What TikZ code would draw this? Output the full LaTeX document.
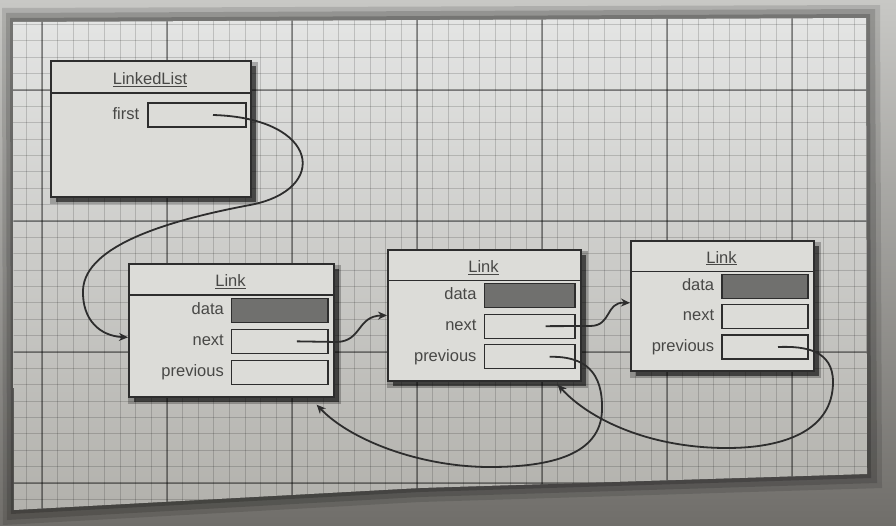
\documentclass[tikz,border=0pt]{standalone}
\usepackage{fontspec}
\setmainfont{Liberation Sans}
\usetikzlibrary{arrows.meta,shadows}

\definecolor{bgtop}{RGB}{200,200,197}
\definecolor{bgbot}{RGB}{112,110,106}
\definecolor{paperhi}{RGB}{228,229,228}
\definecolor{paperlo}{RGB}{178,177,172}
\definecolor{boxfill}{RGB}{220,220,216}
\definecolor{datafill}{RGB}{112,112,110}
\definecolor{ink}{RGB}{45,45,45}
\definecolor{txt}{RGB}{72,72,70}

\tikzset{
  objbox/.style={draw=ink, line width=1.7pt, fill=boxfill, inner sep=0pt,
    drop shadow={shadow xshift=3pt, shadow yshift=-4pt, shadow scale=1.04, opacity=.25, fill=black},
    drop shadow={shadow xshift=5pt, shadow yshift=-5pt, opacity=.55, fill=black}},
  field/.style={draw=ink, line width=1.3pt, fill=boxfill, inner sep=0pt, minimum height=24pt},
  datafield/.style={field, fill=datafill},
  lbl/.style={text=txt, anchor=east, inner sep=0pt, text height=12pt, text depth=3.5pt,
    font=\fontsize{16.5}{18}\selectfont},
  ttl/.style={text=txt, inner sep=0pt, font=\fontsize{16.5}{18}\selectfont},
  hdr/.style={draw=ink, line width=1.4pt},
  ptr/.style={draw=ink, line width=1.8pt, -{Stealth[length=9pt,width=8pt]}},
  fine/.style={draw=black, opacity=.16, line width=.8pt},
  major/.style={draw=black, opacity=.34, line width=1.2pt}
}

\begin{document}
\begin{tikzpicture}[x=1pt, y=-1pt]
\useasboundingbox (0,0) rectangle (896,525);

% surroundings and paper
\shade[top color=bgtop, bottom color=bgbot] (0,0) rectangle (896,525);
\fill[black, opacity=.12] (2,8) -- (880,5) -- (882,488) -- (420,502) -- (3,525) -- cycle;
\fill[black, opacity=.15] (6,13) -- (875,9) -- (877,483) -- (420,497) -- (7,520) -- cycle;
\fill[black, opacity=.2] (10,18) -- (870,14) -- (871,478) -- (420,492) -- (11,514) -- cycle;
\shade[top color=paperhi, bottom color=paperlo] (13,22) -- (866,18) -- (867,474) -- (420,488) -- (14,510) -- cycle;

% grid
\begin{scope}
\clip (13,22) -- (866,18) -- (867,474) -- (420,488) -- (14,510) -- cycle;
\foreach \i in {0,...,55} \draw[fine] ({10.75+15.625*\i},0) -- ++(0,525);
\foreach \i in {0,...,31} \draw[fine] (0,{8.1+16.375*\i}) -- ++(896,0);
\foreach \gx in {42,167,...,792} \draw[major] (\gx,0) -- (\gx,525);
\foreach \gy in {90,221,352,483} \draw[major] (0,\gy) -- (896,\gy);
\end{scope}

% LinkedList object
\node[objbox, anchor=north west, minimum width=200pt, minimum height=136pt] (list) at (50,60) {};
\draw[hdr] (50,93) -- (250,93);
\node[ttl] (list-title) at (150,80) {\underline{LinkedList}};
\node[field, minimum width=98pt] (first) at (197,115) {};
\node[lbl] (first-lbl) at ([xshift=-8pt]first.west) {first};

% Link objects
\foreach \n/\x/\y/\w/\h in {l1/128/263/205/133, l2/387/249/193/131, l3/630/240/183/130} {
  \node[objbox, anchor=north west, minimum width=\w*1pt, minimum height=\h*1pt] (\n) at (\x,\y) {};
  \draw[hdr] (\x,{\y+0.24*\h}) -- ({\x+\w},{\y+0.24*\h});
  \node[ttl] (\n-title) at ({\x+0.5*\w},{\y+0.14*\h}) {\underline{Link}};
  \node[datafield, minimum width=0.47*\w*1pt] (\n-data) at ({\x+0.765*\w-5},{\y+0.355*\h}) {};
  \node[field, minimum width=0.47*\w*1pt] (\n-next) at ({\x+0.765*\w-5},{\y+0.589*\h}) {};
  \node[field, minimum width=0.47*\w*1pt] (\n-prev) at ({\x+0.765*\w-5},{\y+0.823*\h}) {};
  \node[lbl] (\n-datalbl) at ([xshift=-7pt]\n-data.west) {data};
  \node[lbl] (\n-nextlbl) at ([xshift=-7pt]\n-next.west) {next};
  \node[lbl] (\n-prevlbl) at ([xshift=-7pt]\n-prev.west) {previous};
}

% references
\draw[ptr] ([xshift=16pt]first.center) .. controls (320,118) and (330,190) .. (250,205)
  .. controls (170,220) and (85,245) .. (83,290)
  .. controls (82,320) and (100,336) .. ([yshift=-7pt]l1.west);
\draw[ptr] ([xshift=17pt]l1-next.center) -- (337,342) .. controls (362,341) and (357,316) .. (l2.west);
\draw[ptr] ([xshift=16pt]l2-next.center) -- (590,326) .. controls (612,326) and (605,302) .. ([yshift=3pt]l3.west);
\draw[ptr] ([xshift=20pt]l2-prev.center) .. controls (585,356) and (603,372) .. (602,410)
  .. controls (601,455) and (550,467) .. (490,467)
  .. controls (420,467) and (350,440) .. ([xshift=-18pt,yshift=-7pt]l1.south east);
\draw[ptr] ([xshift=13pt]l3-prev.center) .. controls (805,346) and (833,350) .. (833,382)
  .. controls (833,430) and (785,448) .. (727,448)
  .. controls (650,448) and (590,420) .. ([xshift=-24pt,yshift=-3pt]l2.south east);

\end{tikzpicture}
\end{document}
